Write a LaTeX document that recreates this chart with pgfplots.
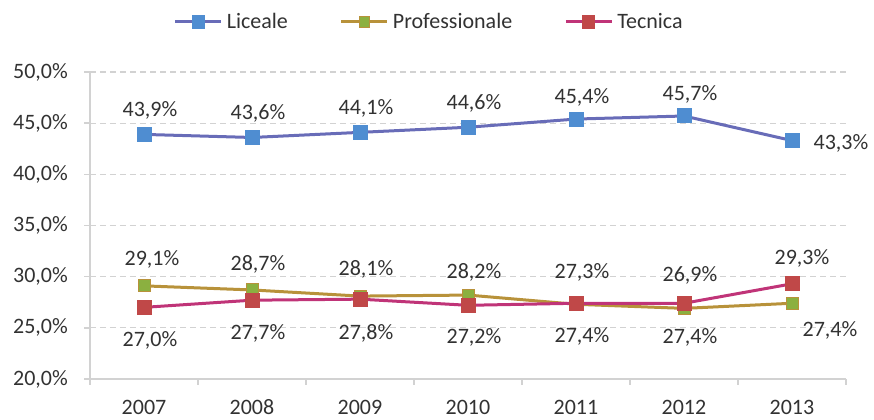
\documentclass[border=0pt]{standalone}
\usepackage{pgfplots}
\usepackage{pgfplotstable}
\pgfplotsset{compat=1.18}
\usepackage{fontspec}
\setmainfont{Carlito}[Numbers=Lining]

\definecolor{licline}{RGB}{104,108,184}
\definecolor{licmark}{RGB}{79,141,209}
\definecolor{proline}{RGB}{184,146,58}
\definecolor{promark}{RGB}{139,176,64}
\definecolor{tecline}{RGB}{192,52,120}
\definecolor{tecmark}{RGB}{192,72,72}
\definecolor{txt}{RGB}{50,50,50}
\definecolor{gridc}{RGB}{210,210,210}

% year, value, label shift x/y (pt)
\pgfplotstableread{
year val dx dy
2007 43.9 3 12
2008 43.6 3 12
2009 44.1 3 12
2010 44.6 3 12
2011 45.4 3 11
2012 45.7 3 11
2013 43.3 24.5 -1.5
}\liceale
\pgfplotstableread{
year val dx dy
2007 29.1 4 13
2008 28.7 3 13
2009 28.1 3 13.5
2010 28.2 3 11.5
2011 27.3 3 16
2012 26.9 3 16.5
2013 27.4 19 -13.5
}\professionale
\pgfplotstableread{
year val dx dy
2007 27.0 3 -16.5
2008 27.7 3 -16.5
2009 27.8 3 -17
2010 27.2 3 -16
2011 27.4 3 -16.5
2012 27.4 3 -17
2013 29.3 5 12.5
}\tecnica

\begin{document}
\begin{tikzpicture}
\begin{axis}[
  scale only axis, width=378pt, height=153.5pt,
  xmin=2006.5, xmax=2013.5, ymin=20, ymax=50,
  clip=false,
  font=\fontsize{11}{13}\selectfont, text=txt,
  xtick={2007,...,2013},
  xticklabels={2007,2008,2009,2010,2011,2012,2013},
  minor xtick={2006.5,2007.5,...,2013.5},
  ytick={20,25,...,50},
  yticklabel={\pgfmathprintnumber[fixed,fixed zerofill,precision=1,use comma]{\tick}\%},
  /pgf/number format/assume math mode=true,
  axis x line*=bottom, axis y line*=left,
  axis line style={draw=gridc,line width=0.8pt,-},
  tick align=outside,
  major x tick style={draw=none},
  minor tick length=3pt,
  major tick length=3pt,
  tick style={draw=gridc,line width=0.8pt},
  ymajorgrids, major grid style={draw=gridc,dash pattern=on 3pt off 2pt,line width=0.6pt},
  xticklabel style={yshift=-2.5pt,text height=8pt,text depth=0pt},
  yticklabel style={xshift=-4pt},
  line width=1.5pt,
  mark size=3pt,
  nodes near coords={\pgfmathprintnumber[fixed,fixed zerofill,precision=1,use comma]{\pgfplotspointmeta}\%},
  visualization depends on={\thisrow{dx} \as \dx},
  visualization depends on={\thisrow{dy} \as \dy},
  nodes near coords style={anchor=center,xshift=\dx pt,yshift=\dy pt,text=txt,font=\fontsize{11}{13}\selectfont},
  legend columns=3,
  legend style={draw=none,fill=none,at={(0.45,1.163)},anchor=center,
    font=\fontsize{11}{13}\selectfont,text=txt,
    /tikz/every even column/.append style={column sep=24pt}},
  legend image code/.code={
    \draw[mark repeat=2,mark phase=2,mark size=2.6pt] plot coordinates {(0pt,0pt) (11.5pt,0pt) (23pt,0pt)};},
]
\addplot[color=licline,mark=square*,mark options={fill=licmark,draw=licmark}] table[x=year,y=val] {\liceale};
\addlegendentry{Liceale}
\addplot[color=proline,mark=square*,mark options={fill=promark,draw=proline,line width=0.5pt}] table[x=year,y=val] {\professionale};
\addlegendentry{Professionale}
\addplot[color=tecline,mark=square*,mark options={fill=tecmark,draw=tecmark}] table[x=year,y=val] {\tecnica};
\addlegendentry{Tecnica}
\coordinate (ll) at (rel axis cs:0,0);
\coordinate (ur) at (rel axis cs:1,1);
\end{axis}
\pgfresetboundingbox
\path ([shift={(-45pt,-20.5pt)}]ll) rectangle ([shift={(14pt,36pt)}]ur);
\end{tikzpicture}
\end{document}
